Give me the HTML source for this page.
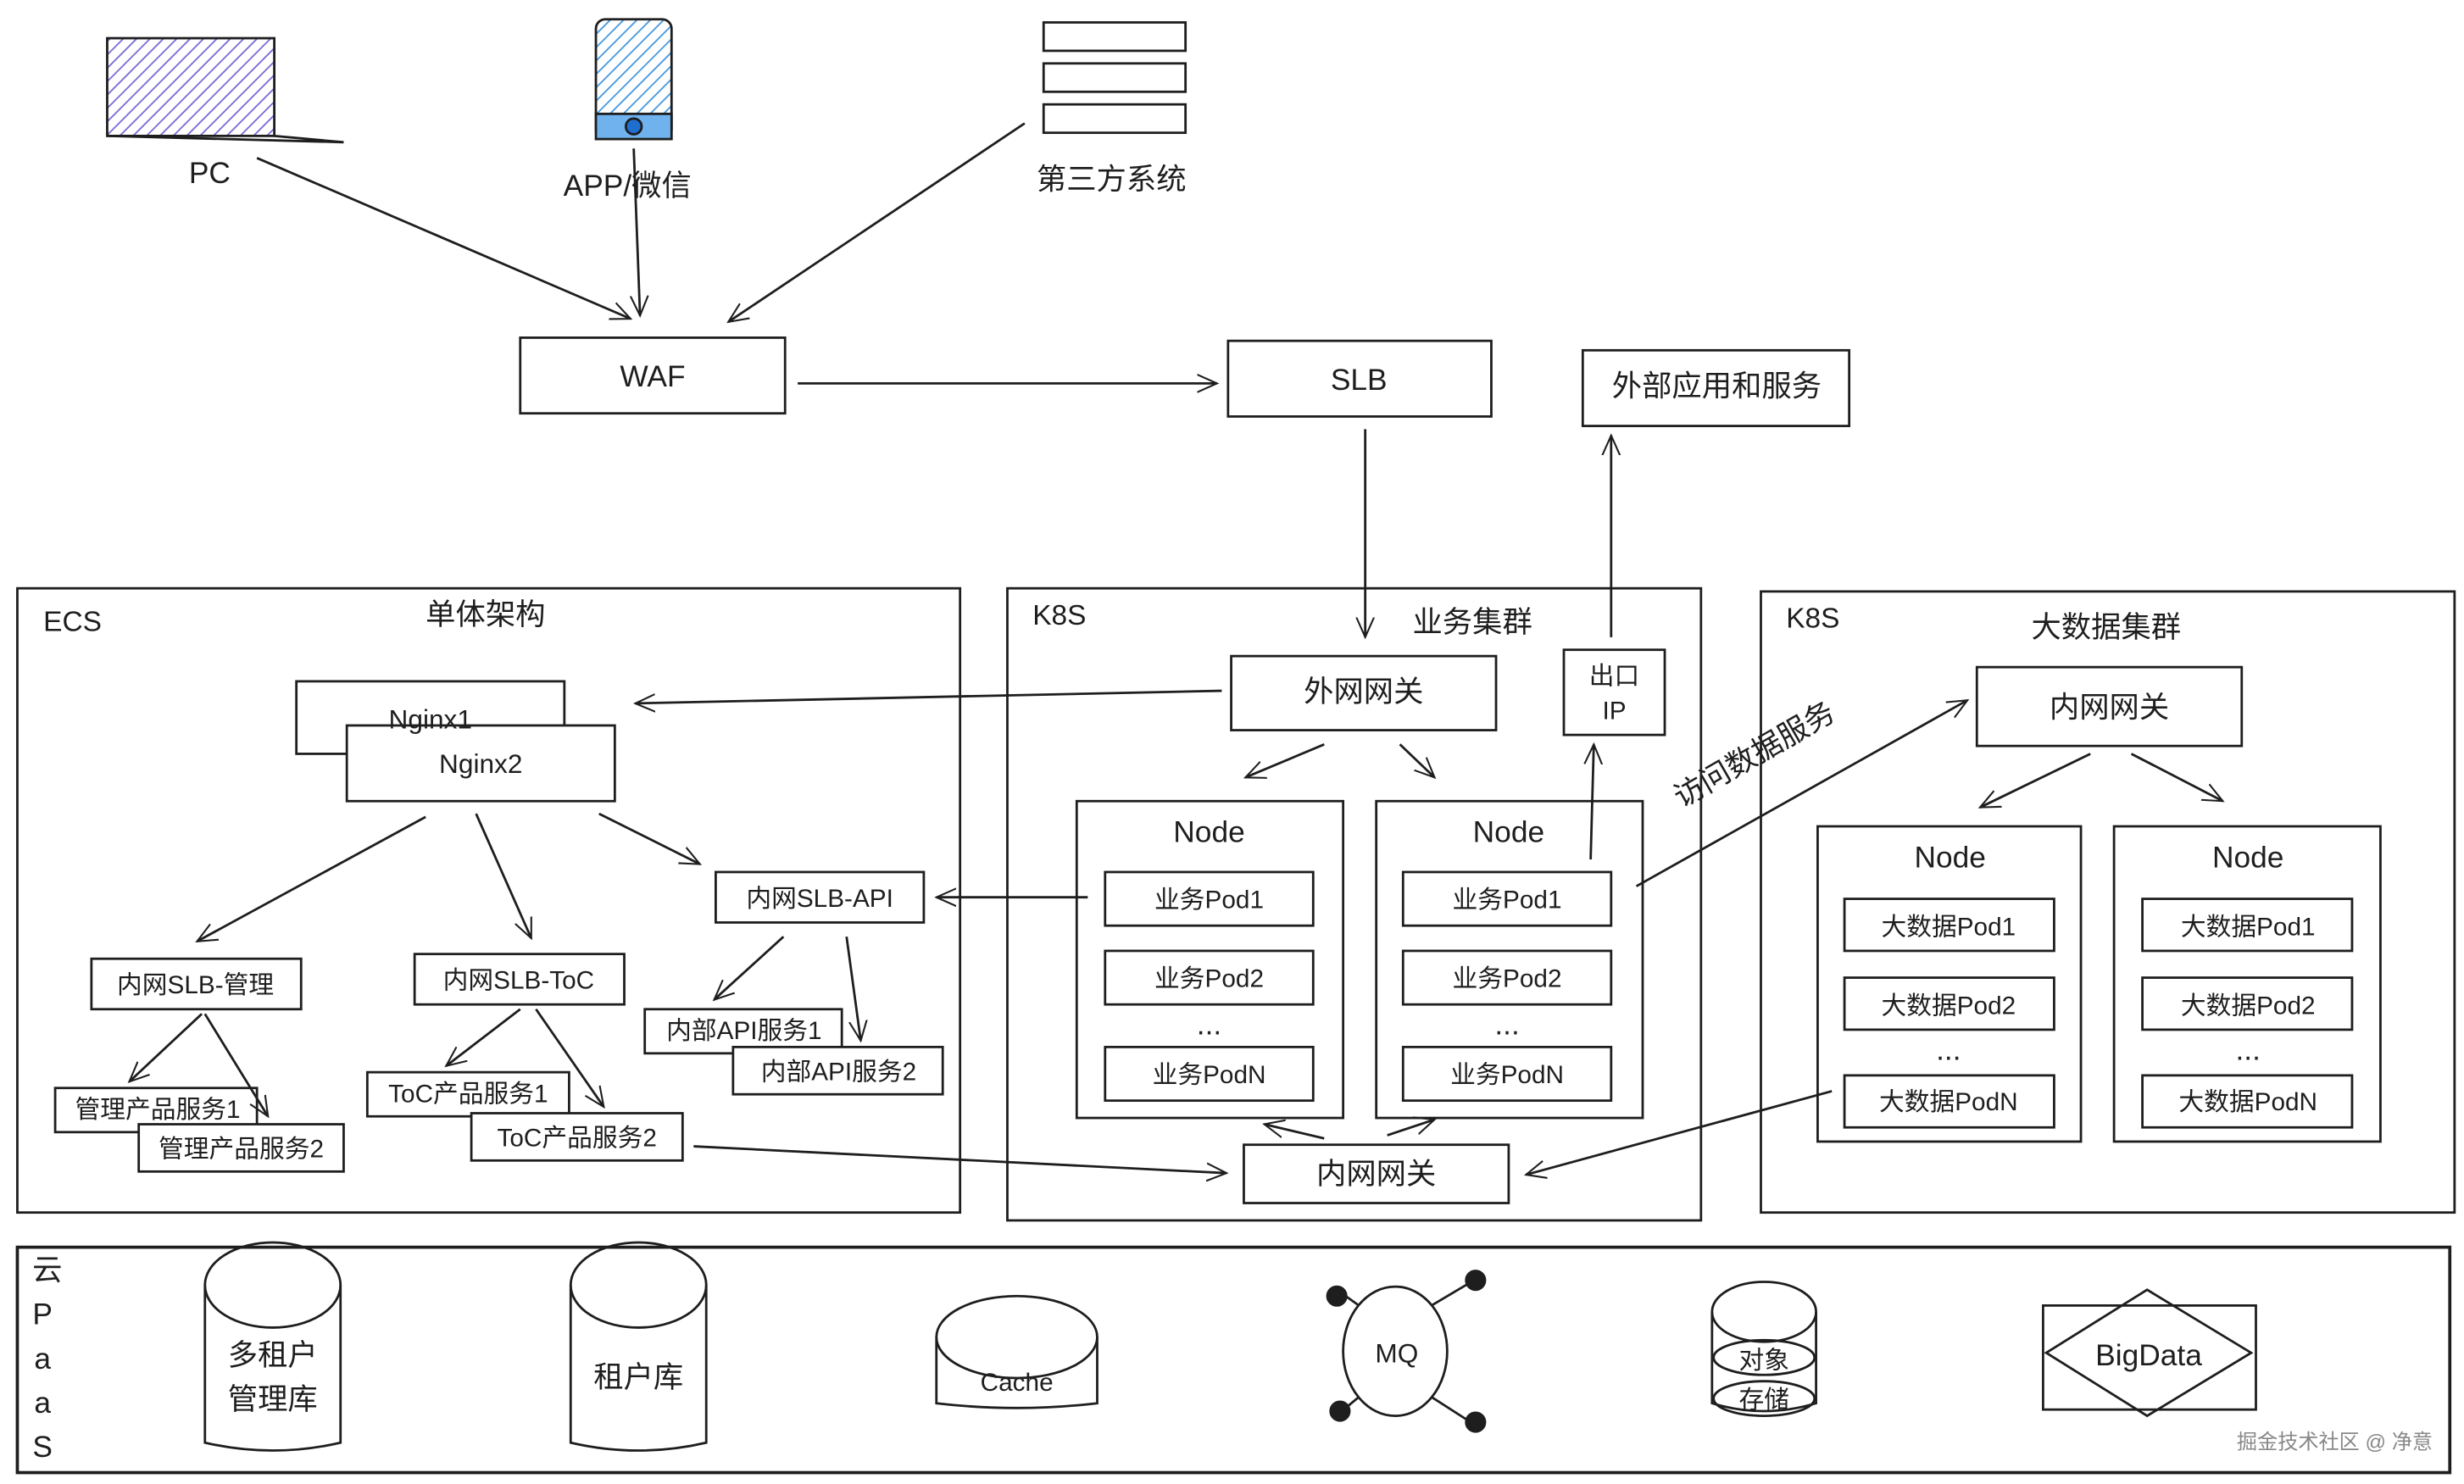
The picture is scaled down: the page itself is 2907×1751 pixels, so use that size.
<!DOCTYPE html>
<html><head><meta charset="utf-8"><style>
html,body{margin:0;padding:0;background:#fff}
svg{display:block}
text{font-family:"Liberation Sans","Noto Sans CJK SC",sans-serif;fill:#1e1e1e}
</style></head><body>
<svg width="2907" height="1751" viewBox="0 0 1563 941" xmlns="http://www.w3.org/2000/svg">
<defs>
<marker id="a" viewBox="0 0 20 20" refX="18" refY="10" markerWidth="14" markerHeight="14" orient="auto" markerUnits="userSpaceOnUse">
<path d="M0,2 L18,10 L0,18" fill="none" stroke="#1e1e1e" stroke-width="1.6"/></marker>
<pattern id="h" width="6" height="6" patternUnits="userSpaceOnUse" patternTransform="rotate(45)"><line x1="0" y1="0" x2="0" y2="6" stroke="#7b6fd6" stroke-width="2"/></pattern>
<pattern id="hb" width="6" height="6" patternUnits="userSpaceOnUse" patternTransform="rotate(45)"><line x1="0" y1="0" x2="0" y2="6" stroke="#4a9ae0" stroke-width="2"/></pattern>
</defs>
<g fill="none" stroke="#1e1e1e" stroke-width="1.5">
<!-- top icons -->
<rect x="68" y="24" width="106" height="62" fill="url(#h)"/>
<path d="M68,86 L218,90 M174,86 L218,90"/>
<rect x="378" y="12" width="48" height="76" rx="6" fill="url(#hb)"/>
<rect x="378" y="72" width="48" height="16" fill="#6fb2ee"/>
<circle cx="402" cy="80" r="5" fill="#1f6fd1"/>
<rect x="662" y="14" width="90" height="18"/><rect x="662" y="40" width="90" height="18"/><rect x="662" y="66" width="90" height="18"/>
<!-- top boxes -->
<rect x="330" y="214" width="168" height="48"/>
<rect x="779" y="216" width="167" height="48"/>
<rect x="1004" y="222" width="169" height="48"/>
<!-- arrows top -->
<path d="M163,100 L400,202" marker-end="url(#a)"/>
<path d="M402,94 L406,200" marker-end="url(#a)"/>
<path d="M650,78 L462,204" marker-end="url(#a)"/>
<path d="M506,243 L772,243" marker-end="url(#a)"/>
<path d="M866,272 L866,404" marker-end="url(#a)"/>
<path d="M1022,404 L1022,276" marker-end="url(#a)"/>
<!-- containers -->
<rect x="11" y="373" width="598" height="396"/>
<rect x="639" y="373" width="440" height="401"/>
<rect x="1117" y="375" width="440" height="394"/>
<rect x="11" y="791" width="1543" height="143" stroke-width="2"/>
<!-- ECS -->
<rect x="188" y="432" width="170" height="46"/>
<rect x="220" y="460" width="170" height="48" fill="#fff"/>
<rect x="58" y="608" width="133" height="32"/>
<rect x="263" y="605" width="133" height="32"/>
<rect x="454" y="553" width="132" height="32"/>
<rect x="35" y="690" width="128" height="28"/>
<rect x="88" y="713" width="130" height="30" fill="#fff"/>
<rect x="233" y="680" width="128" height="28"/>
<rect x="299" y="706" width="134" height="30" fill="#fff"/>
<rect x="409" y="640" width="125" height="28"/>
<rect x="465" y="664" width="133" height="30" fill="#fff"/>
<path d="M270,518 L125,597" marker-end="url(#a)"/>
<path d="M302,516 L337,595" marker-end="url(#a)"/>
<path d="M380,516 L444,548" marker-end="url(#a)"/>
<path d="M128,643 L82,686" marker-end="url(#a)"/>
<path d="M130,643 L170,708" marker-end="url(#a)"/>
<path d="M330,640 L283,676" marker-end="url(#a)"/>
<path d="M340,640 L383,702" marker-end="url(#a)"/>
<path d="M497,594 L453,634" marker-end="url(#a)"/>
<path d="M537,594 L546,660" marker-end="url(#a)"/>
<path d="M775,438 L403,446" marker-end="url(#a)"/>
<path d="M690,569 L594,569" marker-end="url(#a)"/>
<path d="M440,727 L778,744" marker-end="url(#a)"/>
<!-- K8S business -->
<rect x="781" y="416" width="168" height="47"/>
<rect x="992" y="412" width="64" height="54"/>
<rect x="683" y="508" width="169" height="201"/>
<rect x="873" y="508" width="169" height="201"/>
<rect x="701" y="553" width="132" height="34"/><rect x="701" y="603" width="132" height="34"/><rect x="701" y="664" width="132" height="34"/>
<rect x="890" y="553" width="132" height="34"/><rect x="890" y="603" width="132" height="34"/><rect x="890" y="664" width="132" height="34"/>
<rect x="789" y="726" width="168" height="37"/>
<path d="M840,472 L790,493" marker-end="url(#a)"/>
<path d="M888,472 L910,493" marker-end="url(#a)"/>
<path d="M1009,545 L1011,472" marker-end="url(#a)"/>
<path d="M840,722 L802,713" marker-end="url(#a)"/>
<path d="M880,720 L910,710" marker-end="url(#a)"/>
<path d="M1038,562 L1248,444" marker-end="url(#a)"/>
<path d="M1162,692 L968,745" marker-end="url(#a)"/>
<!-- K8S bigdata -->
<rect x="1254" y="423" width="168" height="50"/>
<rect x="1153" y="524" width="167" height="200"/>
<rect x="1341" y="524" width="169" height="200"/>
<rect x="1170" y="570" width="133" height="33"/><rect x="1170" y="620" width="133" height="33"/><rect x="1170" y="682" width="133" height="33"/>
<rect x="1359" y="570" width="133" height="33"/><rect x="1359" y="620" width="133" height="33"/><rect x="1359" y="682" width="133" height="33"/>
<path d="M1326,478 L1256,512" marker-end="url(#a)"/>
<path d="M1352,478 L1410,508" marker-end="url(#a)"/>
<!-- PaaS -->
<path d="M130,815 L130,915 Q173,925 216,915 L216,815"/><ellipse cx="173" cy="815" rx="43" ry="27"/>
<path d="M362,815 L362,915 Q405,925 448,915 L448,815"/><ellipse cx="405" cy="815" rx="43" ry="27"/>
<path d="M594,848 L594,890 Q645,896 696,890 L696,848"/><ellipse cx="645" cy="848" rx="51" ry="26"/>
<ellipse cx="885" cy="857" rx="33" ry="41"/>
<path d="M862,828 L848,818 M908,828 L935,812 M862,886 L850,896 M908,886 L936,904"/>
<g fill="#1e1e1e"><circle cx="848" cy="822" r="6"/><circle cx="936" cy="812" r="6"/><circle cx="850" cy="895" r="6"/><circle cx="936" cy="902" r="6"/></g>
<path d="M1086,832 L1086,890 Q1119,900 1152,890 L1152,832"/><ellipse cx="1119" cy="832" rx="33" ry="19"/>
<ellipse cx="1119" cy="861" rx="32" ry="11"/><ellipse cx="1119" cy="887" rx="32" ry="11"/>
<rect x="1296" y="828" width="135" height="66"/>
<path d="M1362,818 L1428,858 L1362,898 L1298,858 Z"/>
</g>
<g font-size="19" text-anchor="middle">
<text x="133" y="116">PC</text>
<text x="398" y="124">APP/微信</text>
<text x="705" y="120">第三方系统</text>
<text x="414" y="245">WAF</text>
<text x="862" y="247">SLB</text>
<text x="1089" y="251">外部应用和服务</text>
<text x="46" y="400" font-size="18">ECS</text>
<text x="308" y="396">单体架构</text>
<text x="672" y="396" font-size="18">K8S</text>
<text x="934" y="401">业务集群</text>
<text x="1150" y="398" font-size="18">K8S</text>
<text x="1336" y="404">大数据集群</text>
<text x="273" y="462" font-size="17">Nginx1</text>
<text x="305" y="490" font-size="17">Nginx2</text>
<text x="124" y="630" font-size="16">内网SLB-管理</text>
<text x="329" y="627" font-size="16">内网SLB-ToC</text>
<text x="520" y="575" font-size="16">内网SLB-API</text>
<text x="100" y="709" font-size="16">管理产品服务1</text>
<text x="153" y="734" font-size="16">管理产品服务2</text>
<text x="297" y="699" font-size="16">ToC产品服务1</text>
<text x="366" y="727" font-size="16">ToC产品服务2</text>
<text x="472" y="659" font-size="16">内部API服务1</text>
<text x="532" y="685" font-size="16">内部API服务2</text>
<text x="865" y="445">外网网关</text>
<text x="1024" y="434" font-size="16">出口</text>
<text x="1024" y="456" font-size="16">IP</text>
<text x="767" y="534">Node</text><text x="957" y="534">Node</text>
<text x="767" y="576" font-size="16">业务Pod1</text><text x="767" y="626" font-size="16">业务Pod2</text><text x="767" y="656">...</text><text x="767" y="687" font-size="16">业务PodN</text>
<text x="956" y="576" font-size="16">业务Pod1</text><text x="956" y="626" font-size="16">业务Pod2</text><text x="956" y="656">...</text><text x="956" y="687" font-size="16">业务PodN</text>
<text x="873" y="751">内网网关</text>
<text x="1116" y="484" transform="rotate(-30 1116 484)">访问数据服务</text>
<text x="1338" y="455">内网网关</text>
<text x="1237" y="550">Node</text><text x="1426" y="550">Node</text>
<text x="1236" y="593" font-size="16">大数据Pod1</text><text x="1236" y="643" font-size="16">大数据Pod2</text><text x="1236" y="672">...</text><text x="1236" y="704" font-size="16">大数据PodN</text>
<text x="1426" y="593" font-size="16">大数据Pod1</text><text x="1426" y="643" font-size="16">大数据Pod2</text><text x="1426" y="672">...</text><text x="1426" y="704" font-size="16">大数据PodN</text>
<text x="30" y="812">云</text><text x="27" y="840">P</text><text x="27" y="868">a</text><text x="27" y="896">a</text><text x="27" y="924">S</text>
<text x="173" y="866">多租户</text><text x="173" y="894">管理库</text>
<text x="405" y="880">租户库</text>
<text x="645" y="882" font-size="16">Cache</text>
<text x="886" y="864" font-size="17">MQ</text>
<text x="1119" y="868" font-size="16">对象</text><text x="1119" y="893" font-size="16">存储</text>
<text x="1363" y="866">BigData</text>
<text x="1481" y="919" font-size="13" fill="#888" style="fill:#888">掘金技术社区 @ 净意</text>
</g>
</svg>
</body></html>
